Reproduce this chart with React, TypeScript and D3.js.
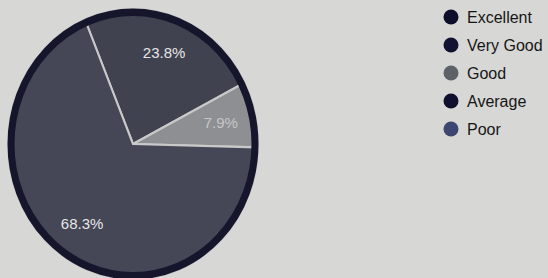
import React, { useEffect, useRef } from 'react';
import * as d3 from 'd3';

const categories = ['Excellent', 'Very Good', 'Good', 'Average', 'Poor'];
const values = [0, 23.8, 7.9, 0, 68.3];
const labels = ['0%', '23.8%', '7.9%', '0%', '68.3%'];
const legendColors = ['#0e0e2a', '#121232', '#5d6168', '#10102e', '#3c4670'];
const sliceColors = ['#0e0e2a', '#40424f', '#8e8f92', '#10102e', '#454756'];

const W = 548;
const H = 278;

export default function App() {
  const svgRef = useRef<SVGSVGElement>(null);

  useEffect(() => {
    if (!svgRef.current) return;
    const svg = d3.select(svgRef.current);
    svg.selectAll('*').remove();

    svg.append('rect').attr('width', W).attr('height', H).attr('fill', '#d7d7d5');

    const cx = 133;
    const cy = 144;
    const R = 125;
    const sy = 1.08; // photo perspective squash

    const data = categories.map((c, i) => ({ name: c, value: values[i], label: labels[i], i }));

    const pie = d3.pie<typeof data[0]>()
      .value(d => d.value)
      .sort(null)
      .startAngle(-0.395)
      .endAngle(-0.395 + Math.PI * 2);
    const arcs = pie(data);

    const arc = d3.arc<d3.PieArcDatum<typeof data[0]>>().innerRadius(0).outerRadius(R);
    const labelArc = d3.arc<d3.PieArcDatum<typeof data[0]>>().innerRadius(90).outerRadius(90);

    const g = svg.append('g').attr('transform', `translate(${cx},${cy}) scale(1,${sy})`);

    g.selectAll('path.slice')
      .data(arcs.filter(a => a.data.value > 0))
      .enter().append('path')
      .attr('class', 'slice')
      .attr('d', arc)
      .attr('fill', d => sliceColors[d.data.i])
      .attr('stroke', '#c9c9c9')
      .attr('stroke-width', 2)
      .attr('stroke-linejoin', 'round');

    // dark rim from the photo
    g.append('circle')
      .attr('r', R - 3)
      .attr('fill', 'none')
      .attr('stroke', '#15152c')
      .attr('stroke-width', 7);

    svg.selectAll('text.lbl')
      .data(arcs.filter(a => a.data.value > 0))
      .enter().append('text')
      .attr('class', 'lbl')
      .attr('x', d => cx + labelArc.centroid(d)[0])
      .attr('y', d => cy + labelArc.centroid(d)[1] * sy)
      .attr('dy', '0.35em')
      .attr('text-anchor', 'middle')
      .attr('font-family', "'Liberation Sans', Arial, sans-serif")
      .attr('font-size', '15px')
      .attr('fill', d => d.data.i === 2 ? '#c4c6ca' : '#e6e6e6')
      .text(d => d.data.label);

    // Legend
    const ly = d3.scalePoint().domain(categories).range([17, 129]);
    const lg = svg.append('g');
    lg.selectAll('circle')
      .data(categories)
      .enter().append('circle')
      .attr('cx', 451)
      .attr('cy', d => ly(d) || 0)
      .attr('r', 7.5)
      .attr('fill', (d, i) => legendColors[i]);
    lg.selectAll('text')
      .data(categories)
      .enter().append('text')
      .attr('x', 467)
      .attr('y', d => ly(d) || 0)
      .attr('dy', '0.36em')
      .attr('font-family', "'Liberation Sans', Arial, sans-serif")
      .attr('font-size', '16px')
      .attr('fill', '#161616')
      .text(d => d);
  }, []);

  return (
    <div style={{ position: 'fixed', left: 0, top: 0 }}>
      <svg ref={svgRef} width={W} height={H} viewBox={`0 0 ${W} ${H}`} style={{ display: 'block' }} />
    </div>
  );
}
